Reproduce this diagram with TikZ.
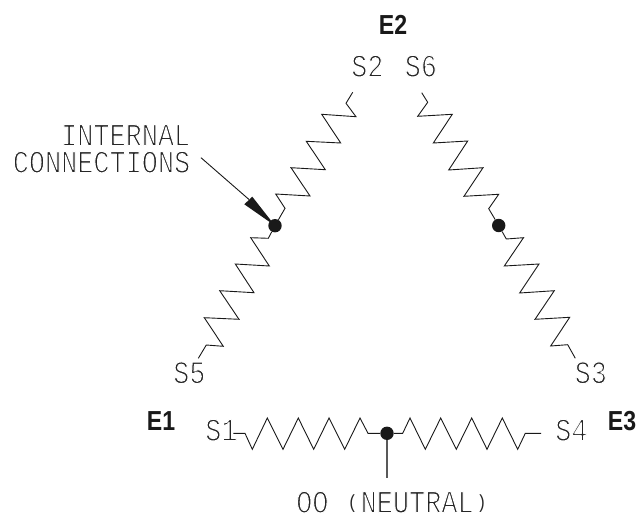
\documentclass[tikz,border=0pt]{standalone}
\usepackage{fontspec}
\setmainfont{Liberation Sans}
\newfontfamily\draft[FakeStretch=0.84]{Liberation Mono}
\newfontfamily\termfont[FakeStretch=0.84]{Liberation Sans Bold}
\newcommand{\thinned}[1]{\special{pdf:code q 2 Tr 1.0 w 1 j 1 1 1 RG}#1\special{pdf:code Q}}
\newcommand{\lowparen}[1]{\makebox[16.13pt][c]{\raisebox{4pt}{\fontsize{19}{19}\selectfont #1}}}
\begin{document}
\begin{tikzpicture}[x=1pt,y=-1pt,
  coil/.style={draw=black!90,line width=0.9pt,line join=miter},
  junction/.style={circle,fill=black!90,draw=none,minimum size=13.4pt,inner sep=0pt},
  tag/.style={font=\draft\fontsize{32}{32}\selectfont,text=black!85,inner sep=0pt,anchor=base west},
  terminal/.style={font=\termfont\fontsize{27.5}{27.5}\selectfont,text=black!90,inner sep=0pt,anchor=base}]
\useasboundingbox (0,0) rectangle (640,516);
\node[junction] (jl) at (275,225.7) {};
\node[junction] (jr) at (498.7,225.5) {};
\node[junction] (jb) at (387,433.3) {};
\coordinate (s2end) at (352.7,92.3);
\coordinate (s6end) at (421.7,92.7);
\coordinate (s5end) at (198.3,358.3);
\coordinate (s3end) at (575.3,358.3);
\coordinate (s1end) at (233.3,433.3);
\coordinate (s4end) at (541,433.3);
\coordinate (nend) at (387,478);
\coordinate (arrowstart) at (201,157.7);
\draw[coil] (s2end) -- (346,103.3) -- (356,116.7) -- (321.7,114.3) -- (340.7,143) -- (306.3,141.3) -- (325.3,169.7) -- (291,167.7) -- (310,196) -- (275.7,194) -- (285,208.3) -- (jl);
\draw[coil] (jl) -- (268.3,238.3) -- (250.7,237.7) -- (269.3,266) -- (235.3,264) -- (254,292.7) -- (219.7,290.7) -- (239,319.3) -- (204.3,317.7) -- (223.3,346.3) -- (206.3,345) -- (s5end);
\draw[coil] (s6end) -- (427.7,102.3) -- (417.7,116.3) -- (452.3,114.3) -- (433.3,143) -- (467.7,141) -- (448.7,170) -- (483,167.7) -- (464,196.3) -- (498.7,194.3) -- (488.7,208.7) -- (jr);
\draw[coil] (jr) -- (506.3,239) -- (523.5,237.7) -- (504.3,266) -- (539,264) -- (519.7,293) -- (554.3,290.7) -- (535,319.3) -- (569.7,317.3) -- (550.7,346) -- (567.7,344.7) -- (s3end);
\draw[coil] (s1end) -- (245,433.3) -- (252.3,449.3) -- (267.3,418) -- (283,449.3) -- (298.3,418) -- (313.7,449.3) -- (329,418) -- (344.7,449.3) -- (360,418) -- (368,433.3) -- (jb);
\draw[coil] (jb) -- (402.7,433.3) -- (410,418) -- (425.3,449.3) -- (440.7,418) -- (456.3,449.3) -- (471.7,418) -- (487,449.3) -- (502.3,418) -- (517.7,449.3) -- (525.3,433.3) -- (s4end);
\draw[coil,draw=black!65,line width=1.2pt] (jb) -- (nend);
\draw[coil] (arrowstart) -- (249,199.5);
\fill[black!90] (jl.center) -- (244.3,204.3) -- (252.3,196.7) -- cycle;
\node[tag,anchor=base east,align=right] (lab1) at (190.4,172.7) {\thinned{INTERNAL}\\[-5pt]\thinned{CONNECTIONS}};
\node[tag] (ts2) at (351,76.7) {\thinned{S2}};
\node[tag] (ts6) at (404.5,76.7) {\thinned{S6}};
\node[tag] (ts5) at (173,383.3) {\thinned{S5}};
\node[tag] (ts3) at (574.5,383.3) {\thinned{S3}};
\node[tag] (ts1) at (205,440.7) {\thinned{S1}};
\node[tag] (ts4) at (555,440.7) {\thinned{S4}};
\node[tag] (tn) at (296,512.7) {\thinned{OO }\lowparen{(}\thinned{NEUTRAL}\lowparen{)}};
\node[terminal] (e2) at (393,34.3) {E2};
\node[terminal] (e1) at (161,430) {E1};
\node[terminal] (e3) at (622,430) {E3};
\end{tikzpicture}
\end{document}
